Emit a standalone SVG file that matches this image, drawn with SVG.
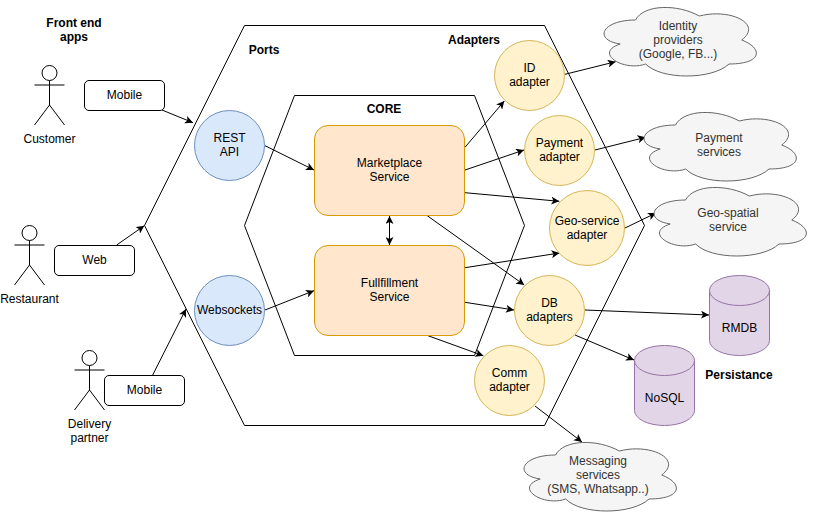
<svg xmlns="http://www.w3.org/2000/svg" width="815" height="516" viewBox="0 0 815 516">
<style>
text{font-family:"Liberation Sans",Arial,sans-serif;font-size:12px;fill:#000;text-anchor:middle}
.b{font-weight:bold}
.hex{fill:#fff;stroke:#000;stroke-width:1}
.box{fill:#fff;stroke:#000;stroke-width:1}
.blue{fill:#dae8fc;stroke:#6c8ebf}
.org{fill:#ffe6cc;stroke:#d79b00}
.yel{fill:#fff2cc;stroke:#d6b656}
.gr{fill:#f5f5f5;stroke:#666}
.pur{fill:#e1d5e7;stroke:#9673a6}
.lip{fill:none;stroke:#9673a6}
.act{fill:#fff;stroke:#000}
.cl text{fill:#333}
#connectors path{fill:none;stroke:#000;stroke-width:1}
</style>
<defs>
<marker id="a" markerWidth="9" markerHeight="8" refX="8" refY="4" orient="auto-start-reverse" markerUnits="userSpaceOnUse"><path d="M0 0L8 4L0 8L2 4Z" fill="#000"/></marker>
<g id="actor"><circle cx="0" cy="8" r="7.500" class="act"/><path d="M0 15.500V40M-15 20H15M0 40L-15 60M0 40L15 60" fill="none" stroke="#000"/></g>
<path id="cloud" d="M42.500 20C8.500 20 0 40 27.200 44C0 52.800 30.600 72 52.700 64C68 80 119 80 136 64C170 64 170 48 148.750 40C170 24 137.700 8 106.250 16C85 4 51 4 42.500 20Z"/>
</defs>
<g id="outer-hex"><path class="hex" d="M144.500 225.500L244.500 25.500H544.500L644.500 225.500L544.500 425.500H244.500Z"/><text class="b" x="264" y="54">Ports</text><text class="b" x="474" y="44">Adapters</text></g>
<g id="core-hex"><path class="hex" d="M244.500 225.500L294.500 95.500H474.500L524.500 225.500L474.500 355.500H294.500Z"/><text class="b" x="384" y="113">CORE</text></g>
<g id="connectors">
<path marker-end="url(#a)" d="M162 110L193 122.700"/>
<path marker-end="url(#a)" d="M116.700 245L144.300 225.700"/>
<path marker-end="url(#a)" d="M152.700 375L186 309"/>
<path marker-end="url(#a)" d="M265 145.700L314 170"/>
<path marker-end="url(#a)" d="M265 310L314 290.700"/>
<path marker-start="url(#a)" marker-end="url(#a)" d="M389.500 216V245"/>
<path marker-end="url(#a)" d="M465 147.300L504.300 101"/>
<path marker-end="url(#a)" d="M465 170L524 150"/>
<path marker-end="url(#a)" d="M465 192.700L559.300 201.300"/>
<path marker-end="url(#a)" d="M427 215.500L524.300 285"/>
<path marker-end="url(#a)" d="M465 267.700L559.500 253"/>
<path marker-end="url(#a)" d="M465 302.300L514 310"/>
<path marker-end="url(#a)" d="M428 335.700L483.300 355.700"/>
<path marker-end="url(#a)" d="M565 74.300L615.700 61.700"/>
<path marker-end="url(#a)" d="M595 150L645.700 137.300"/>
<path marker-end="url(#a)" d="M625 228L656 213"/>
<path marker-end="url(#a)" d="M585 310L709 315"/>
<path marker-end="url(#a)" d="M575 335L634 360"/>
<path marker-end="url(#a)" d="M535 406L582 442"/>
</g>
<g id="customer"><use href="#actor" x="49.500" y="65"/><text x="49.500" y="143">Customer</text></g>
<g id="restaurant"><use href="#actor" x="29.500" y="225"/><text x="29.500" y="303">Restaurant</text></g>
<g id="delivery"><use href="#actor" x="89.500" y="350"/><text x="89.500" y="428">Delivery</text><text x="89.500" y="442">partner</text></g>
<g id="apps"><text class="b" x="74" y="27">Front end</text><text class="b" x="74" y="41">apps</text></g>
<g id="mobile1"><rect class="box" x="84.500" y="80.500" width="80" height="30" rx="4.500"/><text x="124.500" y="99">Mobile</text></g>
<g id="web"><rect class="box" x="54.500" y="245.500" width="80" height="30" rx="4.500"/><text x="94.500" y="264">Web</text></g>
<g id="mobile2"><rect class="box" x="104.500" y="375.500" width="80" height="30" rx="4.500"/><text x="144.500" y="394">Mobile</text></g>
<g id="rest"><circle class="blue" cx="229.500" cy="145.500" r="35"/><text x="229.500" y="142">REST</text><text x="229.500" y="156">API</text></g>
<g id="websockets"><circle class="blue" cx="229.500" cy="310.500" r="35"/><text x="229.500" y="314">Websockets</text></g>
<g id="marketplace"><rect class="org" x="314.500" y="125.500" width="150" height="90" rx="13.500"/><text x="389.500" y="167">Marketplace</text><text x="389.500" y="181">Service</text></g>
<g id="fulfillment"><rect class="org" x="314.500" y="245.500" width="150" height="90" rx="13.500"/><text x="389.500" y="287">Fullfillment</text><text x="389.500" y="301">Service</text></g>
<g id="id-ad"><circle class="yel" cx="529.500" cy="75.500" r="35"/><text x="529.500" y="72">ID</text><text x="529.500" y="86">adapter</text></g>
<g id="pay-ad"><circle class="yel" cx="559.500" cy="150.500" r="35"/><text x="559.500" y="147">Payment</text><text x="559.500" y="161">adapter</text></g>
<g id="geo-ad"><circle class="yel" cx="587" cy="228" r="37.500"/><text x="587" y="225">Geo-service</text><text x="587" y="239">adapter</text></g>
<g id="db-ad"><circle class="yel" cx="549.500" cy="310.500" r="35"/><text x="549.500" y="307">DB</text><text x="549.500" y="321">adapters</text></g>
<g id="comm-ad"><circle class="yel" cx="509.500" cy="380.500" r="35"/><text x="509.500" y="377">Comm</text><text x="509.500" y="391">adapter</text></g>
<g id="identity" class="cl"><use href="#cloud" class="gr" x="593" y="0"/><text x="678" y="30">Identity</text><text x="678" y="44">providers</text><text x="678" y="58">(Google, FB...)</text></g>
<g id="payment" class="cl"><use href="#cloud" class="gr" x="633" y="105"/><text x="719" y="142">Payment</text><text x="719" y="156">services</text></g>
<g id="geosp" class="cl"><use href="#cloud" class="gr" x="643" y="180"/><text x="728" y="217">Geo-spatial</text><text x="728" y="231">service</text></g>
<g id="messaging" class="cl"><use href="#cloud" class="gr" x="513" y="435"/><text x="598" y="465">Messaging</text><text x="598" y="479">services</text><text x="598" y="493">(SMS, Whatsapp..)</text></g>
<g id="rmdb"><path class="pur" d="M709.500 290.500A30 15 0 0 1 769.500 290.500V340.500A30 15 0 0 1 709.500 340.500Z"/><path class="lip" d="M709.500 290.500A30 15 0 0 0 769.500 290.500"/><text x="739.500" y="332">RMDB</text></g>
<g id="nosql"><path class="pur" d="M634.500 360.500A30 15 0 0 1 694.500 360.500V410.500A30 15 0 0 1 634.500 410.500Z"/><path class="lip" d="M634.500 360.500A30 15 0 0 0 694.500 360.500"/><text x="664.500" y="402">NoSQL</text></g>
<g id="persist"><text class="b" x="739" y="379">Persistance</text></g>
</svg>
